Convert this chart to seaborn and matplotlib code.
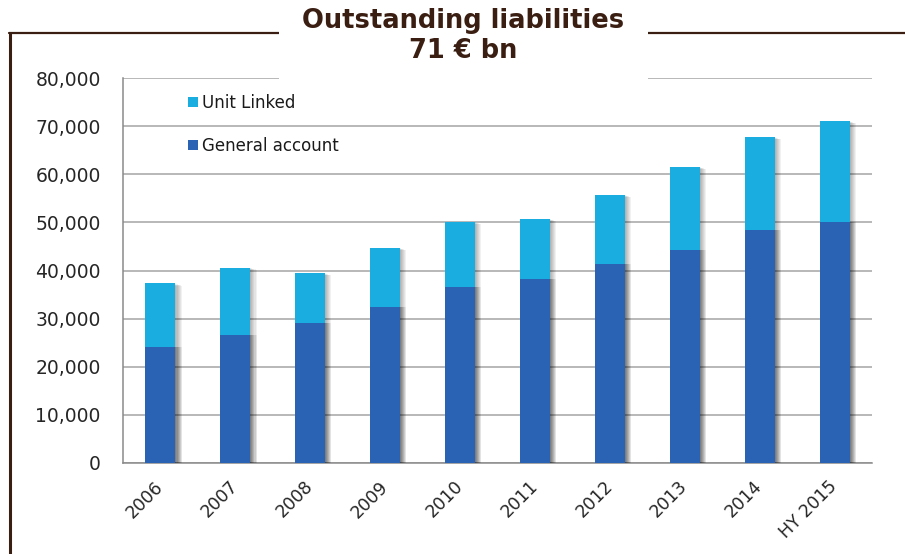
import numpy as np
import pandas as pd
import matplotlib
matplotlib.use("Agg")
import matplotlib.pyplot as plt
import matplotlib.patheffects as pe
from matplotlib.patches import Rectangle
from matplotlib.lines import Line2D
import seaborn as sns

# Outstanding liabilities (EUR m)
years = ["2006", "2007", "2008", "2009", "2010", "2011", "2012", "2013", "2014", "HY 2015"]
general_account = [24100, 26500, 29100, 32500, 36600, 38300, 41300, 44300, 48400, 50000]
unit_linked = [13200, 14100, 10300, 12200, 13500, 12400, 14400, 17200, 19300, 21000]
y_ticks = [0, 10000, 20000, 30000, 40000, 50000, 60000, 70000, 80000]

UL_COLOR = "#1AAEE0"
GA_COLOR = "#2B63B4"
BROWN = "#3A1E12"
TEXT = "#262626"

df = pd.DataFrame({
    "year": years,
    "General account": general_account,
    "Unit Linked": unit_linked,
})
df["total"] = df["General account"] + df["Unit Linked"]

sns.set_theme(style="white")
plt.rcParams["font.family"] = ["DejaVu Sans"]

W, H = 905, 554
fig = plt.figure(figsize=(9.05, 5.54), dpi=100)
ax = fig.add_axes([123 / W, 1 - 463 / H, 749 / W, 385 / H])

# soft drop shadow to the right of each bar
def soft_shadow(dy):
    effects = [pe.SimplePatchShadow(offset=(0.75 * k, dy * k), shadow_rgbFace="#000000",
                                    alpha=0.055) for k in range(1, 7)]
    return effects + [pe.Normal()]

sns.barplot(data=df, x="year", y="total", color=UL_COLOR, width=0.4,
            saturation=1, ax=ax, zorder=3)
n_top = len(ax.patches)
sns.barplot(data=df, x="year", y="General account", color=GA_COLOR, width=0.4,
            saturation=1, ax=ax, zorder=4)
for i, p in enumerate(ax.patches):
    p.set_linewidth(0)
    p.set_path_effects(soft_shadow(-0.25 if i < n_top else 0.0))

ax.set_xlim(-0.5, len(years) - 0.5)
ax.set_ylim(0, 80000)
ax.set_yticks(y_ticks)
ax.set_yticklabels([f"{v:,}" for v in y_ticks], fontsize=13.5, color=TEXT)
ax.set_xticks(range(len(years)))
ax.set_xticklabels(years, rotation=45, ha="right", va="center", rotation_mode="anchor",
                   fontsize=12.5, color=TEXT)
ax.set_xlabel("")
ax.set_ylabel("")

# tick marks on x sit between categories
ax.set_xticks(np.arange(-0.5, len(years) + 0.5, 1), minor=True)
ax.tick_params(axis="x", which="major", length=0, pad=15)
ax.tick_params(axis="x", which="minor", length=6, width=1, color="#8a8a8a", direction="out")
ax.tick_params(axis="y", length=4, width=1, color="#8a8a8a", direction="out", pad=12)

ax.yaxis.grid(True, color="#a4a4a4", linewidth=1.1, zorder=0)
ax.set_axisbelow(True)
for side in ["top", "right"]:
    ax.spines[side].set_visible(False)
for side in ["left", "bottom"]:
    ax.spines[side].set_color("#8a8a8a")
    ax.spines[side].set_linewidth(1.1)

handles = [
    Line2D([], [], marker="s", linestyle="none", markersize=6.5,
           markerfacecolor=UL_COLOR, markeredgewidth=0, label="Unit Linked"),
    Line2D([], [], marker="s", linestyle="none", markersize=6.5,
           markerfacecolor=GA_COLOR, markeredgewidth=0, label="General account"),
]
leg = ax.legend(handles=handles, loc="upper left", bbox_to_anchor=(0.078, 0.975),
                frameon=False, fontsize=12, labelspacing=1.48, handlelength=0.55,
                handletextpad=0.3, borderaxespad=0)
for t in leg.get_texts():
    t.set_color("#1a1a1a")

# frame lines and title panel
fig.add_artist(Line2D([10 / W, 10 / W], [0, 1 - 33 / H], transform=fig.transFigure,
                      color=BROWN, linewidth=2.2))
fig.add_artist(Line2D([9 / W, 279 / W], [1 - 33 / H, 1 - 33 / H], transform=fig.transFigure,
                      color=BROWN, linewidth=1.6))
fig.add_artist(Line2D([648 / W, 1], [1 - 33 / H, 1 - 33 / H], transform=fig.transFigure,
                      color=BROWN, linewidth=1.6))
fig.add_artist(Rectangle((279 / W, 1 - 79 / H), 369 / W, 79 / H, transform=fig.transFigure,
                         facecolor="white", edgecolor="none", zorder=5))
fig.text(463 / W, 1 - 21 / H, "Outstanding liabilities", ha="center", va="center",
         fontsize=18.5, fontweight="bold", color=BROWN, zorder=6)
fig.text(463 / W, 1 - 51 / H, "71 € bn", ha="center", va="center",
         fontsize=18.5, fontweight="bold", color=BROWN, zorder=6)

fig.savefig("out.png", dpi=100, facecolor="white")
